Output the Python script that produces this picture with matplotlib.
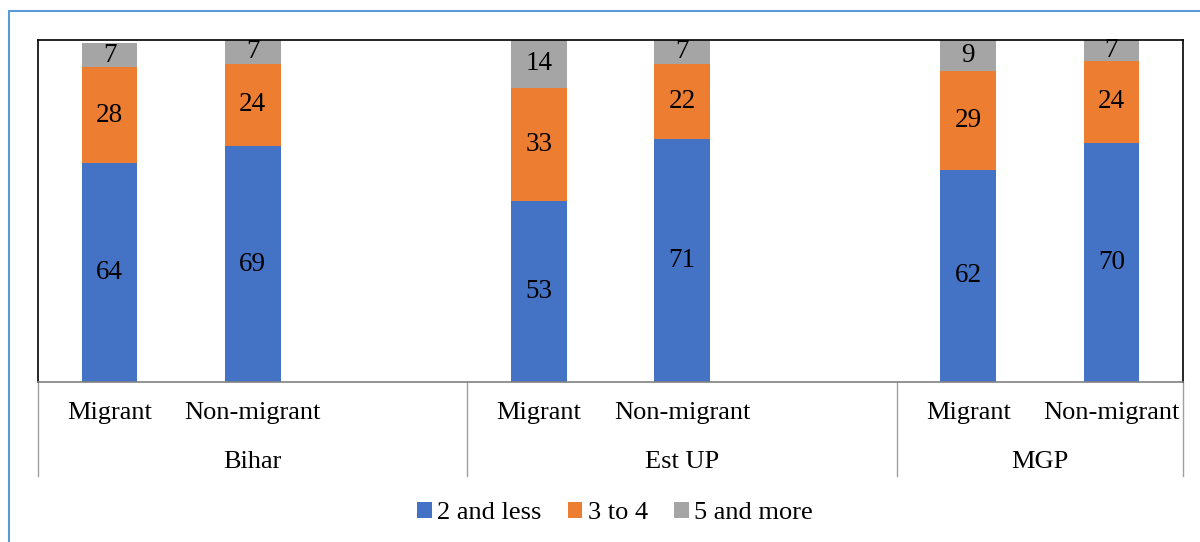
import matplotlib
matplotlib.use("Agg")
from matplotlib import pyplot as plt
from matplotlib.patches import Rectangle

plt.rcParams["font.family"] = ["Liberation Serif", "DejaVu Serif"]

regions = ["Bihar", "Est UP", "MGP"]
groups = ["Migrant", "Non-migrant"]
series_names = ["2 and less", "3 to 4", "5 and more"]
two_and_less = [64, 69, 53, 71, 62, 70]
three_to_four = [28, 24, 33, 22, 29, 24]
five_and_more = [7, 7, 14, 7, 9, 7]
colors = ["#4472C4", "#ED7D31", "#A5A5A5"]

# 8 slots on the category axis, an empty one after each region except the last
slot_pos = [0, 1, 3, 4, 6, 7]
region_edges = [-0.5, 2.5, 5.5, 7.5]
y_max = 100

fig = plt.figure(figsize=(12, 5.42), dpi=100)
W, H = 1200, 542
ax = fig.add_axes([38 / W, 1 - 382 / H, (1183 - 38) / W, (382 - 40) / H])

bottoms = [0] * len(slot_pos)
for name, vals, c in zip(series_names, [two_and_less, three_to_four, five_and_more], colors):
    bars = ax.bar(slot_pos, vals, width=0.39, bottom=bottoms, color=c, label=name)
    for b, v, bot in zip(bars, vals, bottoms):
        # label sits in the middle of the visible part of the segment
        y = (bot + min(bot + v, y_max)) / 2
        ax.text(b.get_x() + b.get_width() / 2, y, str(v),
                ha="center", va="center", fontsize=19.5, color="black")
    bottoms = [a + b for a, b in zip(bottoms, vals)]

ax.set_xlim(-0.5, 7.5)
ax.set_ylim(0, y_max)
ax.set_yticks([])
ax.set_xticks([])
for s in ["left", "top", "right"]:
    ax.spines[s].set_color("black")
    ax.spines[s].set_linewidth(1.2)
ax.spines["bottom"].set_color("#808080")
ax.spines["bottom"].set_linewidth(1.2)

# two-level category axis
trans = ax.get_xaxis_transform()
for x in region_edges:
    ax.plot([x, x], [0, -94 / 342], transform=trans, color="#A0A0A0", lw=1, clip_on=False)
for i, x in enumerate(slot_pos):
    ax.text(x, -31 / 342, groups[i % 2], transform=trans, ha="center", va="center", fontsize=19)
for r, x0, x1 in zip(regions, region_edges[:-1], region_edges[1:]):
    ax.text((x0 + x1) / 2, -80 / 342, r, transform=trans, ha="center", va="center", fontsize=19)

ax.legend(loc="center", bbox_to_anchor=(615 / W, 1 - 513 / H), bbox_transform=fig.transFigure,
          ncol=3, frameon=False, fontsize=19, handlelength=0.55, handleheight=0.55,
          handletextpad=0.2, columnspacing=1.0)

# chart border
fig.add_artist(Rectangle((9 / W, -0.05), 1.1, 1 - 11 / H + 0.05, transform=fig.transFigure,
                         fill=False, edgecolor="#5B9BD5", lw=1.5))

fig.savefig("out.png", dpi=100)
